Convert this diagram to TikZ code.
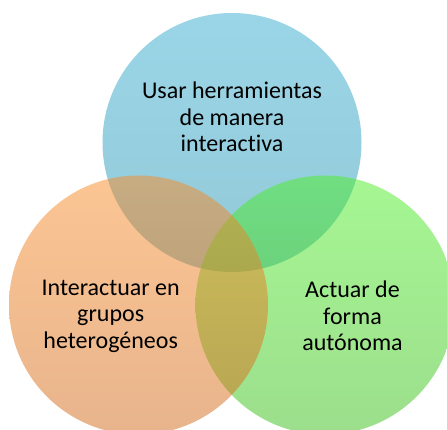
\documentclass[tikz,border=0pt]{standalone}
\usepackage{fontspec}
\setmainfont{Carlito}[Ligatures=NoCommon]
\definecolor{bluetop}{RGB}{53,173,209}
\definecolor{bluebot}{RGB}{39,147,177}
\definecolor{orangetop}{RGB}{249,139,39}
\definecolor{orangebot}{RGB}{209,105,25}
\definecolor{greentop}{RGB}{77,239,39}
\definecolor{greenbot}{RGB}{57,189,25}
\begin{document}
\begin{tikzpicture}[x=1pt,y=-1pt,
  venn/.style={circle, minimum size=259pt, inner sep=0pt, fill opacity=0.5, draw=none},
  lbl/.style={align=center, inner sep=0pt, font=\fontsize{24}{26.5}\selectfont, text=black}]
\useasboundingbox (0,0) rectangle (447,430);
\begin{scope}
\clip (0,0) rectangle (447,430);
\node[venn, top color=bluetop, bottom color=bluebot] (usar) at (232,142.5) {};
\node[venn, top color=greentop, bottom color=greenbot] (actuar) at (325,305) {};
\node[venn, top color=orangetop, bottom color=orangebot] (inter) at (138.5,305) {};
\end{scope}
\node[lbl] (tusar) at (232,117) {Usar herramientas\\de manera\\interactiva};
\node[lbl] (tinter) at (110.7,316) {Interactuar en\\grupos\\heterogéneos};
\node[lbl] (tactuar) at (352.5,316) {Actuar de\\forma\\autónoma};
\end{tikzpicture}
\end{document}
